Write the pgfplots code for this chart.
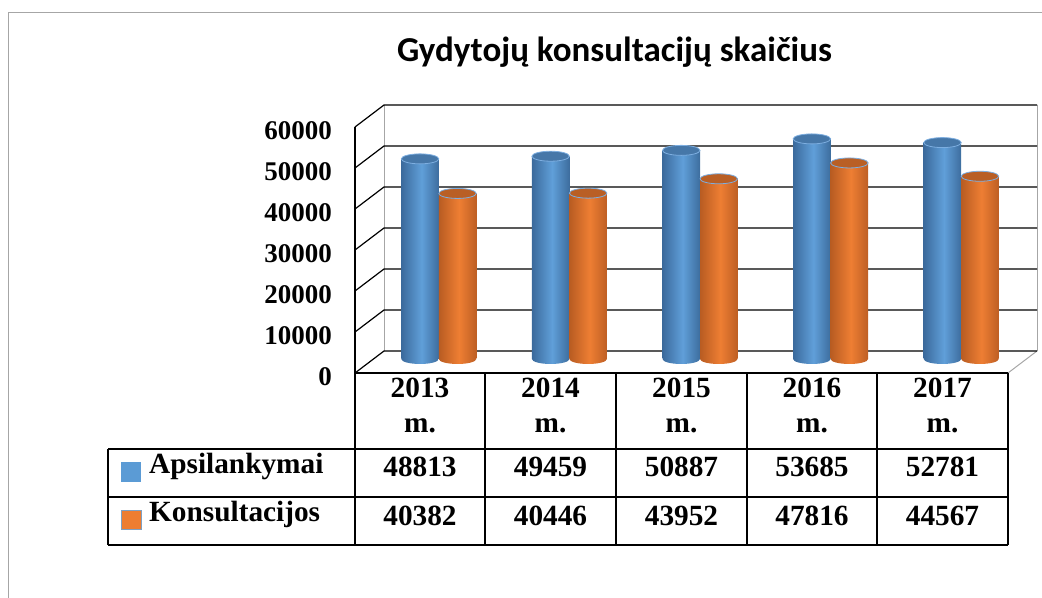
\documentclass[border=0pt]{standalone}
\usepackage{fontspec}
\setmainfont{Liberation Serif}
\newfontfamily\titlefont{Carlito}
\usepackage{pgfplots}
\usepackage{pgfplotstable}
\pgfplotsset{compat=1.18}

\definecolor{bA}{HTML}{3B6A9C}
\definecolor{bB}{HTML}{609FD9}
\definecolor{bC}{HTML}{3D6D9E}
\definecolor{oA}{HTML}{B85C22}
\definecolor{oB}{HTML}{EE7E33}
\definecolor{oC}{HTML}{BE5F24}
\definecolor{bTop}{HTML}{4677A8}
\definecolor{oTop}{HTML}{B95F25}
\definecolor{edgeL}{HTML}{7DAEE0}
\definecolor{legB}{HTML}{5B9BD5}
\definecolor{legO}{HTML}{ED7D31}
\definecolor{frameG}{HTML}{A6A6A6}

\pgfdeclarehorizontalshading{cylblue}{100bp}{color(0bp)=(bA); color(25bp)=(bA); color(52bp)=(bB); color(75bp)=(bC); color(100bp)=(bC)}
\pgfdeclarehorizontalshading{cylorange}{100bp}{color(0bp)=(oA); color(25bp)=(oA); color(52bp)=(oB); color(75bp)=(oC); color(100bp)=(oC)}

\pgfdeclareplotmark{botB}{\pgfpathellipse{\pgfpointorigin}{\pgfpoint{18.75bp}{0pt}}{\pgfpoint{0pt}{5bp}}\pgfshadepath{cylblue}{0}\pgfusepath{discard}}
\pgfdeclareplotmark{botO}{\pgfpathellipse{\pgfpointorigin}{\pgfpoint{18.75bp}{0pt}}{\pgfpoint{0pt}{5bp}}\pgfshadepath{cylorange}{0}\pgfusepath{discard}}
\pgfdeclareplotmark{topE}{\pgfpathellipse{\pgfpointorigin}{\pgfpoint{18.75bp}{0pt}}{\pgfpoint{0pt}{5bp}}\pgfusepathqfillstroke}

\pgfplotstableread{
x apsi kons
0 48813 40382
1 49459 40446
2 50887 43952
3 53685 47816
4 52781 44567
}\data

\pgfplotsset{
  bbar/.style={ybar, bar width=37.5bp, bar shift=-18.75bp, draw=none, shade, shading=cylblue},
  obar/.style={ybar, bar width=37.5bp, bar shift=18.75bp, draw=none, shade, shading=cylorange},
}

\begin{document}
\begin{tikzpicture}
\useasboundingbox (0,0) rectangle (1042bp,598bp);
% frame
\draw[frameG, line width=1bp] (8bp,0) -- (8bp,585bp) -- (1042bp,585bp);
% title
\node[font={\fontsize{35bp}{42bp}\selectfont\titlefont\bfseries}, anchor=base] at (614.5bp,536bp) {Gydytojų konsultacijų skaičius};

% front plane axis with back wall
\begin{axis}[
  at={(355bp,225bp)}, anchor=south west,
  scale only axis, width=653bp, height=246bp,
  xmin=0, xmax=5, ymin=0, ymax=60000,
  axis x line=none, axis y line*=left,
  axis line style={black, line width=1.2bp},
  scaled y ticks=false,
  ytick={0,10000,20000,30000,40000,50000,60000},
  yticklabels={0,10000,20000,30000,40000,50000,60000},
  major tick length=0pt,
  yticklabel style={font={\fontsize{27bp}{31bp}\selectfont\bfseries}, anchor=east, inner sep=0pt, xshift=-23bp, yshift=-3.5bp},
  clip=false,
]
\draw[frameG, line width=1bp] ([shift={(29bp,22bp)}]axis cs:0,0) -- ([shift={(29bp,22bp)}]axis cs:0,60000);
\draw[frameG, line width=1bp] ([shift={(29bp,22bp)}]axis cs:5,0) -- ([shift={(29bp,22bp)}]axis cs:5,60000);
\draw[frameG, line width=1bp] (axis cs:5,0) -- ([shift={(29bp,22bp)}]axis cs:5,0);
\pgfplotsinvokeforeach{0,10000,20000,30000,40000,50000,60000}{
  \draw[black, line width=1.2bp] (axis cs:0,#1) -- ([shift={(29bp,22bp)}]axis cs:0,#1) -- ([shift={(29bp,22bp)}]axis cs:5,#1);
}
\end{axis}

% bars (mid-depth plane)
\begin{axis}[
  at={(373.5bp,239bp)}, anchor=south west,
  scale only axis, width=653bp, height=246bp,
  xmin=-0.5, xmax=4.5, ymin=0, ymax=60000,
  hide axis, clip=false,
]
% blue cylinders
\addplot[only marks, mark=botB, mark options={xshift=-18.75bp}] table[x=x, y expr=0] {\data};
\addplot[bbar] coordinates {(0,48813)};
\addplot[bbar] coordinates {(1,49459)};
\addplot[bbar] coordinates {(2,50887)};
\addplot[bbar] coordinates {(3,53685)};
\addplot[bbar] coordinates {(4,52781)};
\addplot[only marks, mark=topE, mark options={xshift=-18.75bp, fill=bTop, draw=edgeL, line width=0.8bp}] table[x=x, y=apsi] {\data};
% orange cylinders
\addplot[only marks, mark=botO, mark options={xshift=18.75bp}] table[x=x, y expr=0] {\data};
\addplot[obar] coordinates {(0,40382)};
\addplot[obar] coordinates {(1,40446)};
\addplot[obar] coordinates {(2,43952)};
\addplot[obar] coordinates {(3,47816)};
\addplot[obar] coordinates {(4,44567)};
\addplot[only marks, mark=topE, mark options={xshift=18.75bp, fill=oTop, draw=edgeL, line width=0.8bp}] table[x=x, y=kons] {\data};
\end{axis}

% data table (image coordinates)
\begin{scope}[yshift=598bp, x=1bp, y=-1bp]
\draw[black, line width=1.2bp] (355,373) -- (1008,373);
\foreach \yy in {449,497,545} {\draw[black, line width=1.2bp] (108,\yy) -- (1008,\yy);}
\foreach \xx in {355,485,616,747,877,1008} {\draw[black, line width=1.2bp] (\xx,373) -- (\xx,545);}
\draw[black, line width=1.2bp] (108,449) -- (108,545);
\tikzset{tf/.style={font={\fontsize{29.3bp}{33bp}\selectfont\bfseries}, inner sep=0pt, anchor=base}}
\foreach \cx/\yr/\va/\vk in {420/2013/48813/40382, 550.5/2014/49459/40446, 681.5/2015/50887/43952, 812/2016/53685/47816, 942.5/2017/52781/44567} {
  \node[tf] at (\cx,398) {\yr};
  \node[tf] at (\cx,433) {m.};
  \node[tf] at (\cx,477) {\va};
  \node[tf] at (\cx,526) {\vk};
}
\fill[legB] (121,462) rectangle (141,482);
\filldraw[fill=legO, draw=edgeL!70!gray, line width=0.8bp] (121,510) rectangle (141,529);
\node[tf, anchor=base west] at (149,474) {Apsilankymai};
\node[tf, anchor=base west] at (149,522) {Konsultacijos};
\end{scope}
\end{tikzpicture}
\end{document}
